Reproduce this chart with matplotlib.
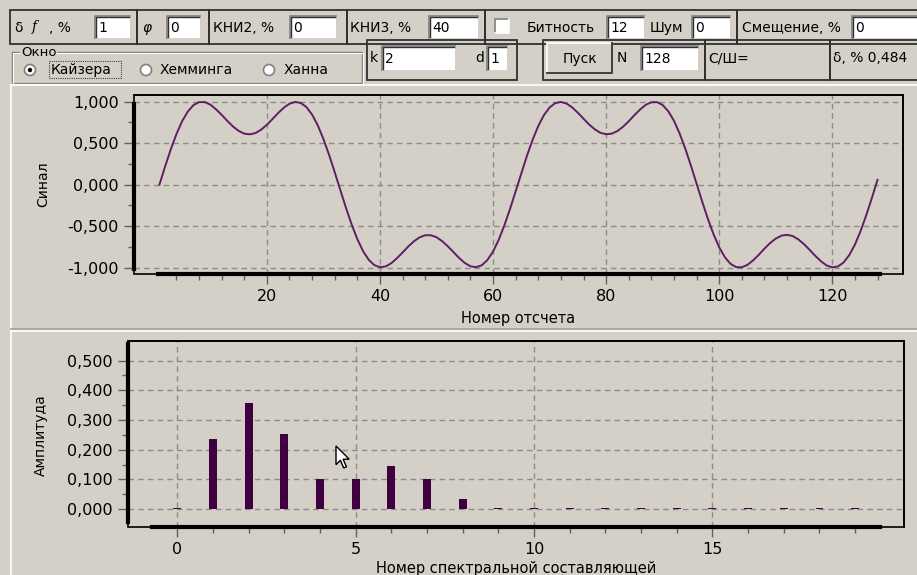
import numpy as np
import matplotlib.pyplot as plt
from matplotlib.patches import Rectangle, Circle, Polygon
from matplotlib.ticker import FixedLocator, FuncFormatter

# --- signal: 128 samples (numbered from 1) ---
sample_no = np.arange(1, 129)
signal = [
    0.000, 0.218, 0.424, 0.608, 0.763, 0.879, 0.957, 0.994, 0.995, 0.964, 0.908, 0.841, 0.768, 0.701, 0.648, 0.614,
    0.606, 0.622, 0.663, 0.721, 0.791, 0.863, 0.927, 0.975, 0.996, 0.984, 0.934, 0.843, 0.715, 0.550, 0.359, 0.149,
    -0.069, -0.283, -0.482, -0.657, -0.800, -0.905, -0.970, -0.995, -0.986, -0.947, -0.887, -0.818, -0.746, -0.683, -0.636, -0.610,
    -0.610, -0.634, -0.681, -0.743, -0.814, -0.884, -0.944, -0.984, -0.995, -0.972, -0.909, -0.806, -0.665, -0.491, -0.294, -0.080,
    0.138, 0.349, 0.541, 0.707, 0.838, 0.930, 0.982, 0.996, 0.977, 0.930, 0.866, 0.794, 0.724, 0.666, 0.624, 0.607,
    0.614, 0.646, 0.698, 0.764, 0.837, 0.905, 0.961, 0.993, 0.994, 0.959, 0.883, 0.769, 0.615, 0.433, 0.228, 0.011,
    -0.207, -0.414, -0.599, -0.756, -0.875, -0.955, -0.994, -0.996, -0.967, -0.912, -0.845, -0.771, -0.704, -0.650, -0.615, -0.605,
    -0.620, -0.660, -0.718, -0.787, -0.860, -0.924, -0.974, -0.997, -0.986, -0.938, -0.849, -0.722, -0.559, -0.369, -0.160, 0.058,
]

# --- spectrum amplitudes ---
harm_no = np.arange(0, 20)
amplitude = [0.005, 0.236, 0.359, 0.252, 0.101, 0.101, 0.146, 0.101, 0.034, 0.003,
             0.003, 0.003, 0.003, 0.003, 0.003, 0.003, 0.003, 0.003, 0.003, 0.003]

BG = '#d4d0c8'
LINE_C = '#5e1f62'
BAR_C = '#3e0040'
GRID_C = '#8c8c8c'

plt.rcParams['font.family'] = ['DejaVu Sans']

fig = plt.figure(figsize=(9.17, 5.75), dpi=100)
fig.patch.set_facecolor(BG)

# form controls drawn in pixel coordinates
gui = fig.add_axes([0, 0, 1, 1], zorder=0)
gui.set_xlim(0, 917)
gui.set_ylim(575, 0)
gui.axis('off')
gui.set_facecolor(BG)


def panel(x0, y0, x1, y1):
    gui.add_patch(Rectangle((x0, y0), x1 - x0, y1 - y0, fill=False, ec='#303030', lw=1.3))


def edit(x0, y0, x1, y1, txt):
    gui.add_patch(Rectangle((x0, y0), x1 - x0, y1 - y0, fc='white', ec='none'))
    gui.plot([x0, x0, x1], [y1, y0, y0], color='#808080', lw=1.2)
    gui.plot([x0 + 1.2, x0 + 1.2, x1 - 1], [y1 - 1, y0 + 1.2, y0 + 1.2], color='#303030', lw=1)
    gui.text(x0 + 3, (y0 + y1) / 2 + 1, txt, va='center', ha='left', fontsize=10)


def label(x, y, txt, size=10, **kw):
    gui.text(x, y, txt, va='center', ha='left', fontsize=size, **kw)


# row 1
panel(10, 10, 137, 44)
label(14, 28, 'δ')
label(32, 27, 'f', fontstyle='italic', family='DejaVu Serif')
label(49, 28, ', %')
edit(95, 16, 130, 38, '1')

panel(137, 10, 209, 44)
label(142, 28, 'φ', fontstyle='italic')
edit(167, 16, 200, 38, '0')

panel(209, 10, 347, 44)
label(213, 28, 'КНИ2, %')
edit(290, 16, 336, 38, '0')

panel(347, 10, 485, 44)
label(350, 28, 'КНИ3, %')
edit(429, 16, 478, 38, '40')

panel(485, 10, 737, 44)
gui.add_patch(Rectangle((495, 19), 14, 14, fc='white', ec='none'))
gui.plot([495, 495, 509], [33, 19, 19], color='#808080', lw=1.2)
gui.plot([509, 509, 495], [19, 33, 33], color='white', lw=1.2)
label(527, 28, 'Битность')
edit(607, 16, 644, 38, '12')
label(650, 28, 'Шум')
edit(692, 16, 730, 38, '0')

panel(737, 10, 930, 44)
label(742, 28, 'Смещение, %')
edit(852, 16, 930, 38, '0')

# row 2: window selection group
gui.plot([20, 12, 12, 362, 362, 50], [52, 52, 83, 83, 52, 52], color='#808080', lw=1)
gui.plot([20, 13, 13, 363, 363, 50], [53, 53, 84, 84, 53, 53], color='white', lw=0.8)
label(21, 52, 'Окно', size=9.5, bbox=dict(fc=BG, ec='none', pad=0.5))
for cx, name, tx in [(30, 'Кайзера', 51), (146, 'Хемминга', 160), (269, 'Ханна', 284)]:
    gui.add_patch(Circle((cx, 70), 5.5, fc='white', ec='#808080', lw=1.2))
    label(tx, 70, name)
gui.add_patch(Circle((30, 70), 2.2, fc='black', ec='none'))
gui.add_patch(Rectangle((49, 61), 72, 17, fill=False, ec='#404040', lw=0.8, ls=(0, (1, 1))))

panel(367, 40, 517, 80)
label(370, 58, 'k')
edit(382, 46, 455, 70, '2')
label(475, 58, 'd')
edit(487, 46, 507, 70, '1')

panel(543, 40, 705, 80)
gui.add_patch(Rectangle((547, 43), 65, 30, fc=BG, ec='none'))
gui.plot([547, 547, 612], [73, 43, 43], color='white', lw=1.2)
gui.plot([547, 612, 612], [73, 73, 43], color='#404040', lw=1.4)
gui.text(580, 59, 'Пуск', ha='center', va='center', fontsize=10)
label(617, 58, 'N')
edit(641, 46, 698, 70, '128')

panel(705, 40, 830, 80)
label(708, 58, 'С/Ш=')
panel(830, 40, 930, 80)
label(833, 58, 'δ, % 0,484')

# chart panel separators
gui.plot([11, 917], [85, 85], color='white', lw=1.2)
gui.plot([11, 11], [85, 575], color='white', lw=1.2)
gui.plot([11, 917], [329, 329], color='#a0a0a0', lw=1.2)
gui.plot([11, 917], [331, 331], color='white', lw=1.2)

comma = FuncFormatter(lambda v, p: ('%.3f' % (0.0 if abs(v) < 1e-9 else v)).replace('.', ','))


def style_axes(ax, ybounds, xbounds):
    ax.set_facecolor(BG)
    for s in ['top', 'right']:
        ax.spines[s].set_linewidth(1.2)
    ax.spines['left'].set_linewidth(3)
    ax.spines['bottom'].set_linewidth(3)
    ax.spines['left'].set_bounds(*ybounds)
    ax.spines['bottom'].set_bounds(*xbounds)
    ax.add_patch(Rectangle((0, 0), 1, 1, transform=ax.transAxes, fill=False,
                           ec='black', lw=1.2, clip_on=False, zorder=5))
    ax.grid(True, which='major', color=GRID_C, ls=(0, (4, 3)), lw=1)
    ax.tick_params(which='major', direction='out', length=7, width=1, color='#606060',
                   labelsize=11.5, pad=4)
    ax.tick_params(which='minor', direction='out', length=4, width=1, color='#606060')
    ax.yaxis.set_major_formatter(comma)


# signal plot
ax1 = fig.add_axes([134 / 917, 1 - 274 / 575, 769 / 917, 179 / 575], zorder=2)
ax1.plot(sample_no, signal, color=LINE_C, lw=1.4)
ax1.set_xlim(-3.5, 132.5)
ax1.set_ylim(-1.077, 1.08)
ax1.xaxis.set_major_locator(FixedLocator(range(20, 121, 20)))
ax1.xaxis.set_minor_locator(FixedLocator([v for v in range(4, 129, 4) if v % 20]))
ax1.yaxis.set_major_locator(FixedLocator([-1, -0.5, 0, 0.5, 1]))
ax1.yaxis.set_minor_locator(FixedLocator([-0.75, -0.25, 0.25, 0.75]))
style_axes(ax1, (-1.02, 0.97), (sample_no[0] - 0.2, sample_no[-1] + 0.5))
ax1.set_ylabel('Синал', fontsize=10)
ax1.yaxis.set_label_coords(-0.109, 0.5)
ax1.set_xlabel('Номер отсчета', fontsize=10.5)
ax1.xaxis.set_label_coords(0.5, -0.205)

# spectrum plot
ax2 = fig.add_axes([128 / 917, 1 - 527 / 575, 776 / 917, 186 / 575], zorder=2)
ax2.bar(harm_no, amplitude, width=0.22, color=BAR_C, zorder=3)
ax2.set_xlim(-1.38, 20.37)
ax2.set_ylim(-0.06, 0.566)
ax2.xaxis.set_major_locator(FixedLocator([0, 5, 10, 15]))
ax2.xaxis.set_minor_locator(FixedLocator([v for v in range(1, 20) if v % 5]))
ax2.yaxis.set_major_locator(FixedLocator(np.arange(0, 0.51, 0.1)))
ax2.yaxis.set_minor_locator(FixedLocator(np.arange(0.05, 0.5, 0.1)))
style_axes(ax2, (-0.043, 0.555), (harm_no[0] - 0.7, harm_no[-1] + 0.7))
ax2.set_ylabel('Амплитуда', fontsize=10)
ax2.yaxis.set_label_coords(-0.103, 0.495)
ax2.set_xlabel('Номер спектральной составляющей', fontsize=10.5)
ax2.xaxis.set_label_coords(0.5, -0.185)

# mouse pointer
arrow = np.array([[0, 0], [0, 17], [4, 13], [7, 20], [9.5, 19], [6.5, 12], [12, 12]]) * 1.1
overlay = fig.add_axes([0, 0, 1, 1], zorder=10)
overlay.set_xlim(0, 917)
overlay.set_ylim(575, 0)
overlay.axis('off')
overlay.patch.set_alpha(0)
overlay.add_patch(Polygon(arrow + [336, 446], closed=True, fc='white', ec='black', lw=1))

fig.savefig('out.png', dpi=100, facecolor=BG)
